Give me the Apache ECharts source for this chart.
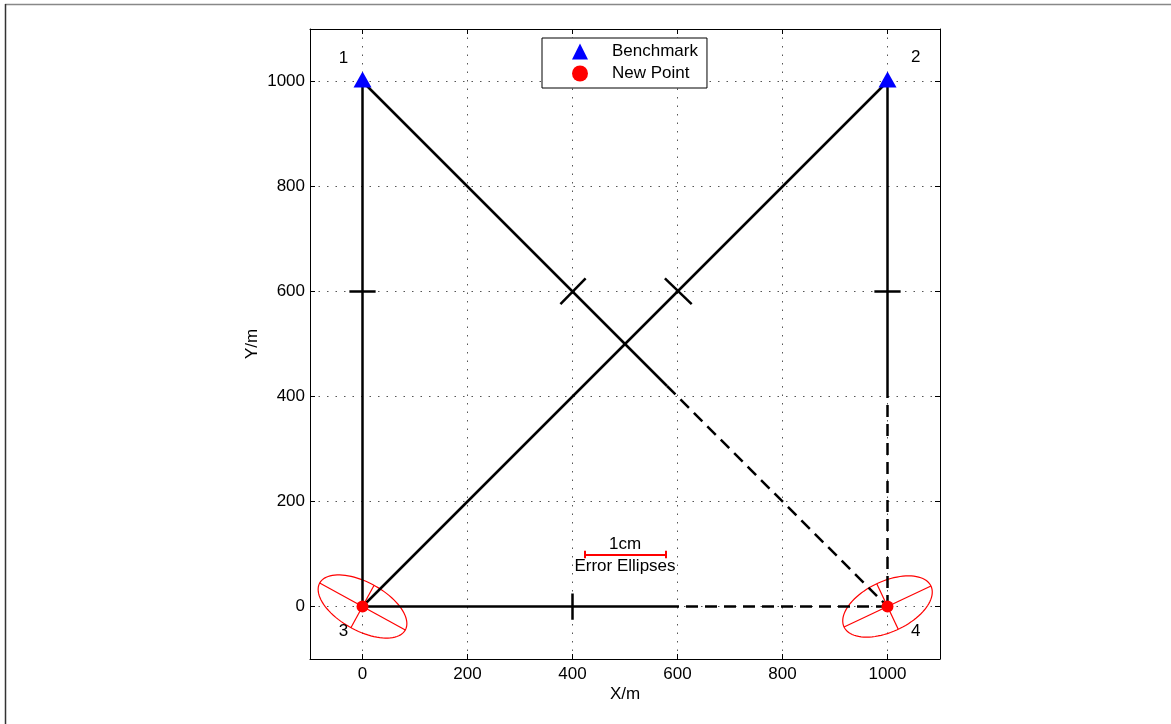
<!DOCTYPE html>
<html>
<head>
<meta charset="utf-8">
<script src="https://cdn.jsdelivr.net/npm/echarts@6/dist/echarts.min.js"></script>
<style>
  html, body { margin: 0; padding: 0; background: #fff; }
  #chart { width: 1171px; height: 724px; }
</style>
</head>
<body>
<div id="chart"></div>
<script>
  // axis ticks
  var xTicks = [0, 200, 400, 600, 800, 1000];
  var yTicks = [0, 200, 400, 600, 800, 1000];

  // points
  var benchmarks = [[0, 1000], [1000, 1000]];
  var newPoints = [[0, 0], [1000, 0]];
  var pointIds = ['1', '2', '3', '4'];
  var pointLabelX = [-36, 1054, -36, 1054];
  var pointLabelY = [1045, 1047, -48, -48];

  // observation lines (solid part / dashed part)
  var solidLines = [
    [[0, 1000], [0, 0]],
    [[0, 1000], [580, 420]],
    [[0, 0], [1000, 1000]],
    [[1000, 1000], [1000, 420]],
    [[0, 0], [580, 0]]
  ];
  var dashedLines = [
    [[580, 420], [1000, 0]],
    [[1000, 420], [1000, 0]],
    [[580, 0], [1000, 0]]
  ];
  // short cross marks on the lines
  var crossMarks = [
    [[-25, 600], [25, 600]],
    [[975, 600], [1025, 600]],
    [[377, 576], [425, 625]],
    [[576, 625], [627, 576]],
    [[400, -25], [400, 25]]
  ];

  // error ellipses: [cx, cy, semi-major, semi-minor, angle deg]
  var ellipses = [
    [0, 0, 93, 46, -28.7],
    [1000, 0, 91.5, 48, 25.2]
  ];

  // scale bar
  var scaleBar = [
    [[423, 99], [577, 99]],
    [[423, 92], [423, 106]],
    [[577, 92], [577, 106]]
  ];
  var scaleText = ['1cm', 'Error Ellipses'];
  var scaleTextX = [500, 500];
  var scaleTextY = [118, 77];

  var FONT = "'Liberation Sans', Arial, sans-serif";

  function toLines(list) {
    return list.map(function (c) { return {coords: c}; });
  }

  function renderEllipse(params, api) {
    var cx = api.value(0), cy = api.value(1);
    var a = api.value(2), b = api.value(3);
    var ang = api.value(4) * Math.PI / 180;
    var ca = Math.cos(ang), sa = Math.sin(ang);
    var p = function (u, v) {
      return api.coord([cx + u * ca - v * sa, cy + u * sa + v * ca]);
    };
    var pts = [];
    for (var k = 0; k < 90; k++) {
      var t = k / 90 * 2 * Math.PI;
      pts.push(p(a * Math.cos(t), b * Math.sin(t)));
    }
    var m1 = p(-a, 0), m2 = p(a, 0), n1 = p(0, -b), n2 = p(0, b);
    var st = {stroke: '#ff0000', lineWidth: 1.2, fill: null};
    return {
      type: 'group',
      children: [
        {type: 'polygon', shape: {points: pts}, style: {stroke: '#ff0000', lineWidth: 1.2, fill: 'none'}},
        {type: 'line', shape: {x1: m1[0], y1: m1[1], x2: m2[0], y2: m2[1]}, style: st},
        {type: 'line', shape: {x1: n1[0], y1: n1[1], x2: n2[0], y2: n2[1]}, style: st}
      ]
    };
  }

  var chart = echarts.init(document.getElementById('chart'));

  var plain = function (v) { return String(v); };

  var baseX = {
    type: 'value', min: -100, max: 1100,
    axisLine: {show: true, onZero: false, lineStyle: {color: '#000', width: 1}},
    axisTick: {show: true, inside: true, length: 5, customValues: xTicks, lineStyle: {color: '#000'}}
  };
  var baseY = {
    type: 'value', min: -100, max: 1100,
    axisLine: {show: true, onZero: false, lineStyle: {color: '#000', width: 1}},
    axisTick: {show: true, inside: true, length: 5, customValues: yTicks, lineStyle: {color: '#000'}}
  };

  var option = {
    backgroundColor: '#fff',
    animation: false,
    textStyle: {fontFamily: FONT},
    graphic: [
      {type: 'line', shape: {x1: 5, y1: 4.5, x2: 1171, y2: 4.5}, style: {stroke: '#888', lineWidth: 1.5}},
      {type: 'line', shape: {x1: 5.5, y1: 4, x2: 5.5, y2: 724}, style: {stroke: '#333', lineWidth: 1.5}}
    ],
    grid: {left: 310, right: 231, top: 29, bottom: 65, containLabel: false},
    legend: {
      left: 542, top: 38,
      orient: 'vertical',
      backgroundColor: '#fff',
      borderColor: '#000', borderWidth: 1,
      padding: [5, 9, 6, 30],
      itemWidth: 16, itemHeight: 16, itemGap: 5,
      itemStyle: {opacity: 1},
      textStyle: {fontSize: 17, color: '#000', fontFamily: FONT, padding: [0, 0, 0, 19]},
      data: ['Benchmark', 'New Point']
    },
    xAxis: [
      Object.assign({}, baseX, {
        position: 'bottom',
        name: 'X/m', nameLocation: 'middle', nameGap: 27, nameMoveOverlap: false,
        nameTextStyle: {fontSize: 17, color: '#000', fontFamily: FONT},
        axisLabel: {customValues: xTicks, formatter: plain, fontSize: 17, color: '#000', margin: 7, fontFamily: FONT},
        splitLine: {show: true, lineStyle: {color: '#555', width: 1, type: [1.5, 7]}}
      }),
      Object.assign({}, baseX, {
        position: 'top',
        axisLabel: {show: false},
        splitLine: {show: false}
      })
    ],
    yAxis: [
      Object.assign({}, baseY, {
        position: 'left',
        name: 'Y/m', nameLocation: 'middle', nameGap: 49, nameMoveOverlap: false,
        nameTextStyle: {fontSize: 17, color: '#000', fontFamily: FONT},
        axisLabel: {customValues: yTicks, formatter: plain, fontSize: 17, color: '#000', margin: 5, fontFamily: FONT},
        splitLine: {show: true, lineStyle: {color: '#555', width: 1, type: [1.5, 7]}}
      }),
      Object.assign({}, baseY, {
        position: 'right',
        axisLabel: {show: false},
        splitLine: {show: false}
      })
    ],
    series: [
      {
        name: 'ellipses',
        type: 'custom',
        renderItem: renderEllipse,
        data: ellipses,
        z: 2
      },
      {
        name: 'solid',
        type: 'lines',
        coordinateSystem: 'cartesian2d',
        lineStyle: {color: '#000', width: 2.5, type: 'solid', opacity: 1},
        data: toLines(solidLines.concat(crossMarks)),
        z: 3
      },
      {
        name: 'dashed',
        type: 'lines',
        coordinateSystem: 'cartesian2d',
        lineStyle: {color: '#000', width: 2.5, type: [12, 7], opacity: 1},
        data: toLines(dashedLines),
        z: 3
      },
      {
        name: 'scalebar',
        type: 'lines',
        coordinateSystem: 'cartesian2d',
        lineStyle: {color: '#ff0000', width: 2, opacity: 1},
        data: toLines(scaleBar),
        z: 3
      },
      {
        name: 'Benchmark',
        type: 'scatter',
        symbol: 'triangle',
        symbolSize: [18, 16],
        symbolOffset: [0, -2],
        itemStyle: {color: '#0000ff', opacity: 1},
        data: benchmarks,
        z: 5
      },
      {
        name: 'New Point',
        type: 'scatter',
        symbol: 'circle',
        symbolSize: 12,
        itemStyle: {color: '#ff0000', opacity: 1},
        data: newPoints,
        z: 5
      },
      {
        name: 'ids',
        type: 'scatter',
        symbolSize: 0,
        silent: true,
        itemStyle: {opacity: 1},
        label: {show: true, position: 'inside', formatter: '{b}', fontSize: 17, color: '#000', fontFamily: FONT},
        data: pointIds.map(function (n, i) { return {name: n, value: [pointLabelX[i], pointLabelY[i]]}; }),
        z: 6
      },
      {
        name: 'scaletext',
        type: 'scatter',
        symbolSize: 0,
        silent: true,
        itemStyle: {opacity: 1},
        label: {show: true, position: 'inside', formatter: '{b}', fontSize: 17, color: '#000', fontFamily: FONT},
        data: scaleText.map(function (n, i) { return {name: n, value: [scaleTextX[i], scaleTextY[i]]}; }),
        z: 6
      }
    ]
  };

  chart.setOption(option);
</script>
</body>
</html>
